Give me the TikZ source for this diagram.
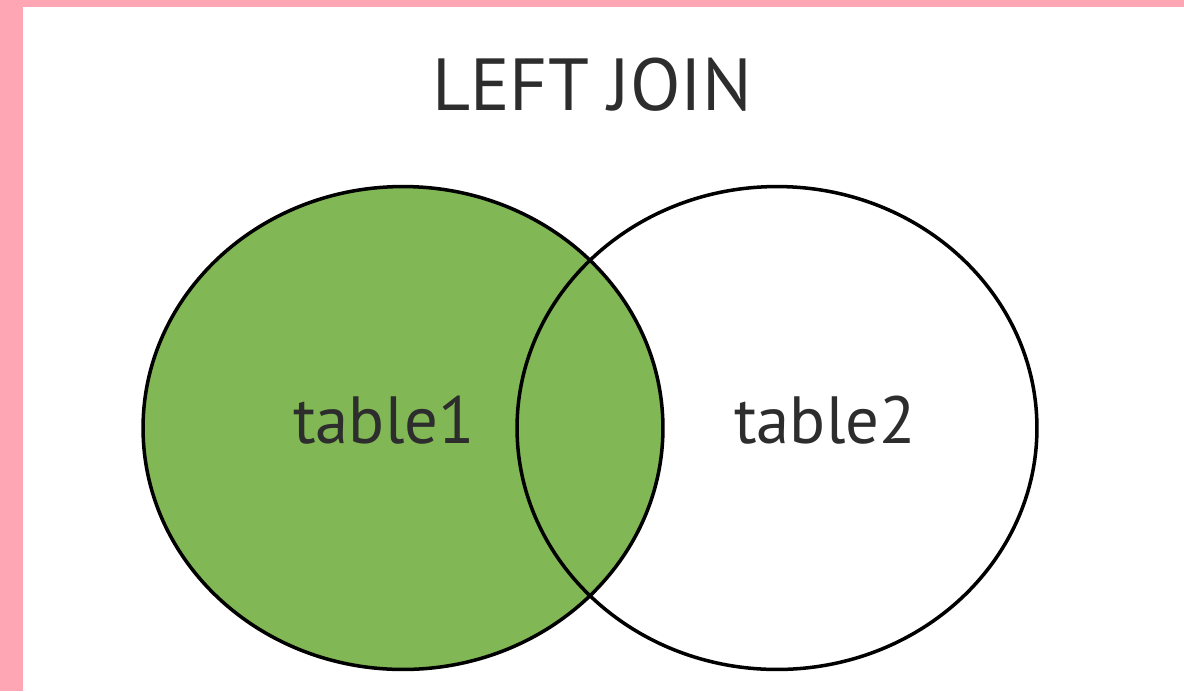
\documentclass[tikz,border=0pt]{standalone}
\usepackage{fontspec}
\setmainfont{PT Sans}
\usetikzlibrary{shapes.geometric}
\definecolor{joingreen}{RGB}{129,184,85}
\definecolor{framepink}{RGB}{255,166,180}
\definecolor{inkgray}{RGB}{45,45,45}
\begin{document}
\begin{tikzpicture}[x=0.02cm,y=-0.02cm]
			\tikzset{set/.style = {shape=ellipse,draw=black,line width=2pt,
					minimum width=10.4cm,minimum height=9.66cm}}
			\tikzset{label/.style = {text=inkgray,font=\fontsize{38}{40}\selectfont}}
			% frame
			\fill[framepink] (0,0) rectangle (1184,691);
			\fill[white] (23,7) rectangle (1184,691);
			\useasboundingbox (0,0) rectangle (1184,691);
			% sets
			\node[set,fill=joingreen] (tbla) at (403,428) {};
			\node[set] (tblb) at (777,428) {};
			% labels
			\node[label] (ta) at (384,420) {table1};
			\node[label] (tb) at (825,420) {table2};
			\node[text=inkgray,font=\fontsize{42}{44}\selectfont] (title) at (592,85) {LEFT JOIN};
\end{tikzpicture}
\end{document}
